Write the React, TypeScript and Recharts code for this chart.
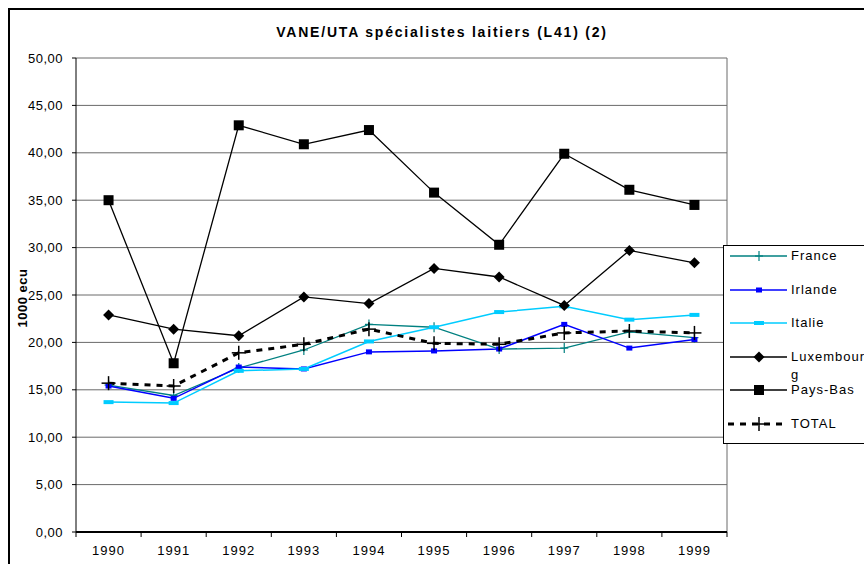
import React from 'react'
import { LineChart, Line, XAxis, YAxis, CartesianGrid, Label } from 'recharts'

// ─── Data ─────────────────────────────────────────────────────────────────────

const years = ['1990', '1991', '1992', '1993', '1994', '1995', '1996', '1997', '1998', '1999']

const france     = [15.5, 14.4, 17.3, 19.2, 21.9, 21.6, 19.3, 19.4, 21.1, 20.5]
const irlande    = [15.4, 14.1, 17.4, 17.2, 19.0, 19.1, 19.3, 21.9, 19.4, 20.3]
const italie     = [13.7, 13.6, 17.0, 17.2, 20.1, 21.6, 23.2, 23.8, 22.4, 22.9]
const luxembourg = [22.9, 21.4, 20.7, 24.8, 24.1, 27.8, 26.9, 23.9, 29.7, 28.4]
const paysBas    = [35.0, 17.8, 42.9, 40.9, 42.4, 35.8, 30.3, 39.9, 36.1, 34.5]
const total      = [15.7, 15.4, 18.9, 19.8, 21.4, 19.9, 19.8, 21.0, 21.2, 21.0]

const yTicks = [0, 5, 10, 15, 20, 25, 30, 35, 40, 45, 50]

// category centres and category edges on a 0..n numeric scale (Excel-style ticks)
const centerTicks = years.map((_, i) => i + 0.5)
const edgeTicks   = [...years.map((_, i) => i), years.length]

const data = years.map((year, i) => ({
  pos:        i + 0.5,
  year,
  france:     france[i],
  irlande:    irlande[i],
  italie:     italie[i],
  luxembourg: luxembourg[i],
  paysBas:    paysBas[i],
  total:      total[i],
}))

// ─── Series styling ───────────────────────────────────────────────────────────

type MarkerKind = 'plus' | 'smallRect' | 'wideRect' | 'diamond' | 'square' | 'bigPlus'

interface SeriesDef {
  key:    string
  name:   string
  color:  string
  width:  number
  dash?:  string
  marker: MarkerKind
}

const series: SeriesDef[] = [
  { key: 'france',     name: 'France',     color: '#008080', width: 1.3, marker: 'plus' },
  { key: 'irlande',    name: 'Irlande',    color: '#0000ff', width: 1.5, marker: 'smallRect' },
  { key: 'italie',     name: 'Italie',     color: '#00ccff', width: 1.5, marker: 'wideRect' },
  { key: 'luxembourg', name: 'Luxembourg', color: '#000000', width: 1.3, marker: 'diamond' },
  { key: 'paysBas',    name: 'Pays-Bas',   color: '#000000', width: 1.3, marker: 'square' },
  { key: 'total',      name: 'TOTAL',      color: '#000000', width: 3,   dash: '6 6', marker: 'bigPlus' },
]

const FONT = '"Liberation Sans", Arial, sans-serif'

function Marker({ kind, cx, cy, color }: { kind: MarkerKind; cx: number; cy: number; color: string }) {
  if (cx == null || cy == null) return null
  switch (kind) {
    case 'plus':
      return (
        <g stroke={color} strokeWidth={1.2}>
          <line x1={cx - 4} y1={cy} x2={cx + 4} y2={cy} />
          <line x1={cx} y1={cy - 5} x2={cx} y2={cy + 5} />
        </g>
      )
    case 'bigPlus':
      return (
        <g stroke={color} strokeWidth={1.5}>
          <line x1={cx - 7} y1={cy} x2={cx + 7} y2={cy} />
          <line x1={cx} y1={cy - 7} x2={cx} y2={cy + 7} />
        </g>
      )
    case 'smallRect':
      return <rect x={cx - 3} y={cy - 2.5} width={6} height={5} fill={color} />
    case 'wideRect':
      return <rect x={cx - 5} y={cy - 2} width={10} height={4} fill={color} />
    case 'diamond':
      return <polygon points={`${cx},${cy - 5.5} ${cx + 5.5},${cy} ${cx},${cy + 5.5} ${cx - 5.5},${cy}`} fill={color} />
    case 'square':
      return <rect x={cx - 5} y={cy - 5} width={10} height={10} fill={color} />
  }
  return null
}

// ─── Y axis label ─────────────────────────────────────────────────────────────

function YLabel(props: any) {
  const vb = props.viewBox || { x: 0, y: 0, width: 0, height: 0 }
  const x = vb.x + 12
  const y = vb.y + vb.height / 2 + 3
  return (
    <text
      x={x}
      y={y}
      transform={`rotate(-90 ${x} ${y})`}
      textAnchor="middle"
      dominantBaseline="central"
      fontFamily={FONT}
      fontWeight="bold"
      fontSize={13}
      letterSpacing={0.5}
      fill="#000"
    >
      1000 ecu
    </text>
  )
}

// ─── Legend (Excel-style box, clipped on the right) ───────────────────────────

function LegendBox() {
  return (
    <div
      style={{
        position: 'absolute',
        left: 713,
        top: 235,
        width: 200,
        height: 197,
        border: '1px solid #000',
        background: '#fff',
        fontFamily: FONT,
        fontSize: 13,
        letterSpacing: 1,
      }}
    >
      {series.map((s, i) => (
        <div key={s.key} style={{ position: 'absolute', left: 0, top: 1 + i * 33.6, height: 18, width: 200 }}>
          <svg width={64} height={18} style={{ position: 'absolute', left: 0, top: 0 }}>
            <line
              x1={s.dash ? 4 : 6}
              y1={9}
              x2={63}
              y2={9}
              stroke={s.color}
              strokeWidth={s.dash ? 3 : s.width}
              strokeDasharray={s.dash}
            />
            <Marker kind={s.marker} cx={35} cy={9} color={s.color} />
          </svg>
          <div
            style={{
              position: 'absolute',
              left: 67,
              top: 0,
              width: 78,
              lineHeight: '18px',
              wordBreak: 'break-all',
              color: '#000',
            }}
          >
            {s.name}
          </div>
        </div>
      ))}
    </div>
  )
}

// ─── Component ────────────────────────────────────────────────────────────────

export default function App() {
  return (
    <div
      style={{
        position: 'fixed',
        left: 8,
        top: 8,
        width: 854,
        height: 554,
        borderLeft: '2px solid #000',
        borderTop: '2px solid #000',
        overflow: 'hidden',
        background: '#fff',
        fontFamily: FONT,
      }}
    >
      <div
        style={{
          position: 'absolute',
          left: 232,
          top: 13,
          width: 400,
          textAlign: 'center',
          fontWeight: 'bold',
          fontSize: 14,
          lineHeight: '18px',
          letterSpacing: 1.8,
          color: '#000',
        }}
      >
        VANE/UTA spécialistes laitiers (L41) (2)
      </div>

      <div style={{ position: 'absolute', left: 0, top: 0 }}>
        <LineChart width={740} height={554} data={data} margin={{ top: 48, right: 23, bottom: 2, left: 0 }}>
          <CartesianGrid
            xAxisId="years"
            stroke="#6a6a6a"
            strokeWidth={1}
            verticalCoordinatesGenerator={({ offset }: any) => [offset.left + offset.width]}
          />
          <XAxis
            xAxisId="edges"
            type="number"
            dataKey="pos"
            domain={[0, years.length]}
            ticks={edgeTicks}
            interval={0}
            tick={() => <g />}
            tickSize={5}
            height={5}
            axisLine={{ stroke: '#000', strokeWidth: 2 }}
            tickLine={{ stroke: '#000', strokeWidth: 1 }}
            allowDataOverflow
          />
          <XAxis
            xAxisId="years"
            type="number"
            dataKey="pos"
            domain={[0, years.length]}
            ticks={centerTicks}
            interval={0}
            tickFormatter={(v: number) => years[Math.floor(v)]}
            axisLine={false}
            tickLine={false}
            tickSize={0}
            tickMargin={9}
            height={25}
            tick={{ fill: '#000', fontSize: 13, fontFamily: FONT, letterSpacing: 1 }}
            allowDataOverflow
          />
          <YAxis
            type="number"
            domain={[0, 50]}
            ticks={yTicks}
            interval={0}
            width={66}
            tickSize={4}
            tickMargin={9}
            tickFormatter={(v: number) => v.toFixed(2).replace('.', ',')}
            axisLine={{ stroke: '#000', strokeWidth: 1 }}
            tickLine={{ stroke: '#000', strokeWidth: 1 }}
            tick={{ fill: '#000', fontSize: 13, fontFamily: FONT, letterSpacing: 0.5 }}
          >
            <Label content={YLabel} />
          </YAxis>

          {series.map((s) => (
            <Line
              key={s.key}
              xAxisId="years"
              type="linear"
              dataKey={s.key}
              name={s.name}
              stroke={s.color}
              strokeWidth={s.width}
              strokeDasharray={s.dash}
              isAnimationActive={false}
              activeDot={false}
              dot={(p: any) => (
                <Marker key={`${s.key}-${p.index}`} kind={s.marker} cx={p.cx} cy={p.cy} color={s.color} />
              )}
            />
          ))}
        </LineChart>
      </div>

      <LegendBox />
    </div>
  )
}
